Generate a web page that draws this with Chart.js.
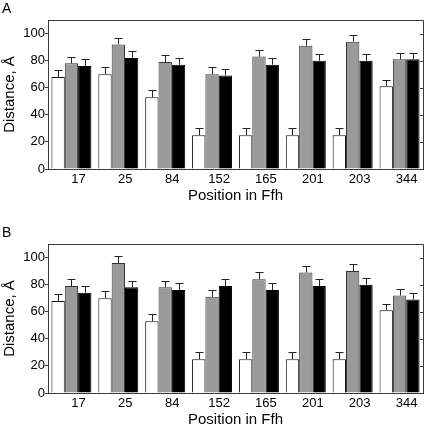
<!DOCTYPE html>
<html>
<head>
<meta charset="utf-8">
<script src="https://cdn.jsdelivr.net/npm/chart.js@4"></script>
<style>
  html, body { margin: 0; padding: 0; background: #fff; }
  #wrap { position: relative; width: 426px; height: 426px; }
  canvas { position: absolute; left: 0; }
  #chartA { top: 0; }
  #chartB { top: 224px; }
</style>
</head>
<body>
<div id="wrap">
  <canvas id="chartA" width="426" height="202"></canvas>
  <canvas id="chartB" width="426" height="202"></canvas>
</div>
<script>
// positions along Ffh
const positions = ["17", "25", "84", "152", "165", "201", "203", "344"];

// panel A
const aWhite = [68, 70, 53, 25, 25, 25, 25, 61];
const aGray = [78, 92, 79, 70, 83, 91, 94, 81];
const aBlack = [76, 82, 77, 69, 77, 80, 80, 81];
const aWhiteErr = [5, 5, 5, 5, 5, 5, 5, 5];
const aGrayErr = [5, 5, 5, 5, 5, 5, 5, 5];
const aBlackErr = [5, 5, 5, 5, 5, 5, 5, 5];

// panel B
const bWhite = [68, 70, 53, 25, 25, 25, 25, 61];
const bGray = [79, 96, 78, 71, 84, 89, 90, 72];
const bBlack = [74, 78, 76, 79, 76, 79, 80, 69];
const bWhiteErr = [5, 5, 5, 5, 5, 5, 5, 5];
const bGrayErr = [5, 5, 5, 5, 5, 5, 5, 5];
const bBlackErr = [5, 5, 5, 5, 5, 5, 5, 5];

const yTicks = [0, 20, 40, 60, 80, 100];
const FONT = "'Liberation Sans', Arial, sans-serif";
const AXIS = "#3a3a3a";

// upper error bars with a small cap
const errorBars = {
  id: "errorBars",
  afterDatasetsDraw(chart) {
    const ctx = chart.ctx;
    const y = chart.scales.y;
    ctx.save();
    ctx.strokeStyle = "#222";
    ctx.lineWidth = 1;
    chart.data.datasets.forEach((ds, i) => {
      const meta = chart.getDatasetMeta(i);
      meta.data.forEach((bar, j) => {
        const top = y.getPixelForValue(ds.data[j] + ds.errors[j]);
        const x = Math.round(bar.x) + 0.5;
        ctx.beginPath();
        ctx.moveTo(x, bar.y);
        ctx.lineTo(x, Math.round(top) + 0.5);
        ctx.moveTo(x - 4, Math.round(top) + 0.5);
        ctx.lineTo(x + 4, Math.round(top) + 0.5);
        ctx.stroke();
      });
    });
    ctx.restore();
  }
};

// top + right frame with inward ticks, panel letter
const frame = {
  id: "frame",
  afterDraw(chart, args, opts) {
    const ctx = chart.ctx;
    const a = chart.chartArea;
    const y = chart.scales.y;
    ctx.save();
    ctx.strokeStyle = AXIS;
    ctx.lineWidth = 1;
    ctx.beginPath();
    ctx.moveTo(a.left, a.top + 0.5);
    ctx.lineTo(a.right + 0.5, a.top + 0.5);
    ctx.lineTo(a.right + 0.5, a.bottom);
    yTicks.forEach(v => {
      const py = Math.round(y.getPixelForValue(v)) + 0.5;
      ctx.moveTo(a.right, py);
      ctx.lineTo(a.right - 3, py);
    });
    ctx.stroke();
    ctx.fillStyle = "#000";
    ctx.font = "14px " + FONT;
    ctx.textBaseline = "top";
    ctx.fillText(opts.letter, 2, 2);
    ctx.restore();
  }
};

function makeChart(id, letter, white, gray, black, wErr, gErr, kErr) {
  return new Chart(document.getElementById(id), {
    type: "bar",
    data: {
      labels: positions,
      datasets: [
        { data: white, errors: wErr, backgroundColor: "#ffffff", borderColor: "#111", borderWidth: 1 },
        { data: gray, errors: gErr, backgroundColor: "#9a9a9a", borderColor: "#333", borderWidth: 1 },
        { data: black, errors: kErr, backgroundColor: "#000000", borderColor: "#000", borderWidth: 1 }
      ]
    },
    options: {
      responsive: false,
      animation: false,
      events: [],
      layout: { padding: { top: 20, right: 3, left: 0, bottom: 0 } },
      datasets: { bar: { categoryPercentage: 0.853, barPercentage: 1.0 } },
      plugins: {
        legend: { display: false },
        tooltip: { enabled: false },
        frame: { letter: letter }
      },
      scales: {
        x: {
          grid: { display: false, drawTicks: false },
          border: { display: true, color: AXIS, width: 1 },
          ticks: { color: "#000", font: { family: FONT, size: 13 }, padding: 3, labelOffset: 7, maxRotation: 0 },
          title: { display: true, text: "Position in Ffh", color: "#000", font: { family: FONT, size: 15, lineHeight: 1 }, padding: { top: 0, bottom: -1 } },
          afterFit(scale) { scale.height = 33; }
        },
        y: {
          min: 0,
          max: 110,
          grid: { drawOnChartArea: false, drawTicks: true, tickLength: 3, color: AXIS },
          border: { display: true, color: AXIS, width: 1 },
          ticks: { stepSize: 20, color: "#000", font: { family: FONT, size: 13 }, padding: 0 },
          afterBuildTicks(scale) { scale.ticks = yTicks.map(v => ({ value: v })); },
          title: { display: true, text: "Distance, Å", color: "#000", font: { family: FONT, size: 15 }, padding: { top: 1, bottom: 0 } },
          afterFit(scale) { scale.width = 48; }
        }
      }
    },
    plugins: [errorBars, frame]
  });
}

makeChart("chartA", "A", aWhite, aGray, aBlack, aWhiteErr, aGrayErr, aBlackErr);
makeChart("chartB", "B", bWhite, bGray, bBlack, bWhiteErr, bGrayErr, bBlackErr);
</script>
</body>
</html>
